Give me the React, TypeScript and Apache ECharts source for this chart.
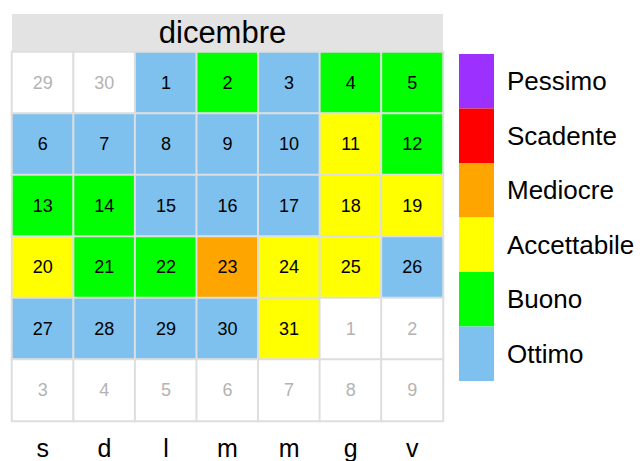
import React, { useEffect, useRef } from "react";
import * as echarts from "echarts";

// ---- data ----
const monthTitle = "dicembre";
const year = 2014;
const monthIndex = 11; // December
const weekdayLabels = ["s", "d", "l", "m", "m", "g", "v"]; // week starts on Saturday
const weekStartDow = 6; // Saturday
const qualityLevels = ["Ottimo", "Buono", "Accettabile", "Mediocre", "Scadente", "Pessimo"];
const qualityColors = ["#7EC0EE", "#00FF00", "#FFFF00", "#FFA500", "#FF0000", "#9B30FF"];
// quality per day of month (1..31)
const dailyQuality = [
  "Ottimo", "Buono", "Ottimo", "Buono", "Buono",
  "Ottimo", "Ottimo", "Ottimo", "Ottimo", "Ottimo", "Accettabile", "Buono",
  "Buono", "Buono", "Ottimo", "Ottimo", "Ottimo", "Accettabile", "Accettabile",
  "Accettabile", "Buono", "Buono", "Mediocre", "Accettabile", "Accettabile", "Ottimo",
  "Ottimo", "Ottimo", "Ottimo", "Ottimo", "Accettabile",
];
const weekRows = ["1", "2", "3", "4", "5", "6"];

const FONT = "'Liberation Sans', Arial, Helvetica, sans-serif";

export default function App() {
  const ref = useRef<HTMLDivElement>(null);
  useEffect(() => {
    if (!ref.current) return;
    const chart = echarts.init(ref.current, null, { renderer: "svg" });

    const first = new Date(year, monthIndex, 1);
    const offset = (first.getDay() - weekStartDow + 7) % 7;
    const daysInMonth = new Date(year, monthIndex + 1, 0).getDate();
    const daysPrev = new Date(year, monthIndex, 0).getDate();
    const totalCells = weekRows.length * 7;

    const cells: any[] = [];
    for (let i = 0; i < totalCells; i++) {
      const col = i % 7;
      const row = (i / 7) | 0;
      const d = i - offset + 1;
      if (d >= 1 && d <= daysInMonth) {
        cells.push({ value: [col, row, qualityLevels.indexOf(dailyQuality[d - 1])], day: d });
      } else {
        const num = d < 1 ? daysPrev + d : d - daysInMonth;
        cells.push({ value: [col, row, -1], day: num, label: { color: "#B3B3B3" } });
      }
    }

    chart.setOption({
      animation: false,
      backgroundColor: "#ffffff",
      textStyle: { fontFamily: FONT },
      grid: { left: 12, right: 197, top: 52, bottom: 40 },
      xAxis: {
        type: "category",
        data: weekdayLabels.map((_, i) => String(i)),
        axisLine: { show: false },
        axisTick: { show: false },
        splitLine: { show: false },
        axisLabel: {
          formatter: (v: string) => weekdayLabels[Number(v)],
          fontSize: 25,
          color: "#000",
          margin: 14,
          fontFamily: FONT,
        },
      },
      yAxis: {
        type: "category",
        inverse: true,
        data: weekRows,
        show: false,
      },
      visualMap: {
        type: "piecewise",
        seriesIndex: 0,
        dimension: 2,
        orient: "vertical",
        align: "left",
        left: 459,
        top: 54,
        padding: 0,
        itemWidth: 35,
        itemHeight: 54.5,
        itemGap: 0,
        itemSymbol: "rect",
        textGap: 13,
        selectedMode: false,
        hoverLink: false,
        textStyle: { fontSize: 26, color: "#000", fontFamily: FONT },
        pieces: qualityLevels.map((l, i) => ({ value: i, label: l, color: qualityColors[i] })),
        outOfRange: { color: "#FFFFFF" },
      },
      graphic: [
        {
          type: "rect",
          shape: { x: 12, y: 14, width: 431, height: 37 },
          style: { fill: "#E3E3E3" },
          silent: true,
        },
        {
          type: "text",
          x: 222.5,
          y: 32,
          style: {
            text: monthTitle,
            fontSize: 31,
            fontFamily: FONT,
            fill: "#000",
            align: "center",
            verticalAlign: "middle",
          },
          silent: true,
        },
      ],
      series: [
        {
          type: "heatmap",
          data: cells,
          itemStyle: { borderColor: "#DEDEDE", borderWidth: 2 },
          label: {
            show: true,
            fontSize: 18,
            color: "#000",
            fontFamily: FONT,
            formatter: (p: any) => String(p.data.day),
          },
          emphasis: { disabled: true },
        },
      ],
    });
    return () => chart.dispose();
  }, []);
  return <div ref={ref} style={{ width: 640, height: 461, position: "absolute", left: 0, top: 0 }} />;
}
